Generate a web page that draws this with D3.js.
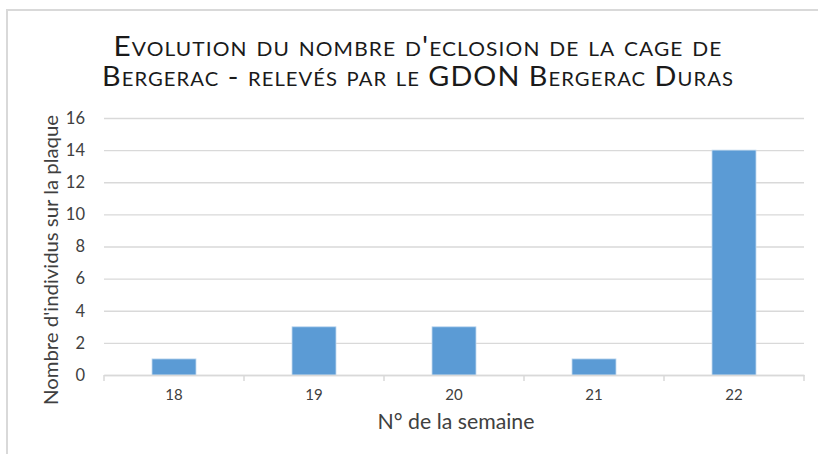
<!DOCTYPE html>
<html><head><meta charset="utf-8">
<script src="https://cdn.jsdelivr.net/npm/d3@7/dist/d3.min.js"></script>
<style>body{margin:0;background:#fff}svg{display:block}</style>
</head><body><svg id="c" width="818" height="454"></svg>
<script>
const weeks = ["18","19","20","21","22"];
const counts = [1,3,3,1,14];
const yTicks = [0,2,4,6,8,10,12,14,16];
const titleLines = ["Evolution du nombre d'eclosion de la cage de","Bergerac - relevés par le GDON Bergerac Duras"];
const xTitle = "N° de la semaine";
const yTitle = "Nombre d'individus sur la plaque";

const svg = d3.select("#c");
const W = 818, H = 454;
const m = {left:104, right:14, top:118, bottom:79};
const x = d3.scaleBand().domain(weeks).range([m.left, W - m.right]).paddingInner(0.686).paddingOuter(0.343);
const y = d3.scaleLinear().domain([0,16]).range([H - m.bottom, m.top]);

// frame (only left/top visible)
svg.append("rect").attr("x",7).attr("y",10).attr("width",830).attr("height",470)
  .attr("fill","none").attr("stroke","#d9d9d9").attr("stroke-width",2);

// grid
const grid = svg.append("g").attr("transform",`translate(${m.left},0)`)
  .call(d3.axisLeft(y).tickValues(yTicks).tickSize(-(W - m.right - m.left)).tickFormat(""));
grid.select(".domain").remove();
grid.selectAll("line").attr("stroke","#d9d9d9").attr("stroke-width",1.3);

// y tick labels
const ya = svg.append("g").attr("transform",`translate(${m.left},0)`)
  .call(d3.axisLeft(y).tickValues(yTicks).tickSize(0).tickPadding(19));
ya.select(".domain").remove();
ya.selectAll("text").attr("font-family","Lato, sans-serif").attr("font-size",16.5).attr("fill","#404040");

// bars
const bw = x.bandwidth();
svg.append("g").selectAll("rect").data(weeks).join("rect")
  .attr("x", d => x(d)).attr("width", bw)
  .attr("y", (d,i) => y(counts[i])).attr("height", (d,i) => y(0) - y(counts[i]))
  .attr("fill","#5b9bd5").attr("stroke","#bdd7ee").attr("stroke-width",0.8);

// x axis
const step = x.step();
const xa = svg.append("g").attr("transform",`translate(0,${y(0)})`)
  .call(d3.axisBottom(x).tickSize(0).tickPadding(14));
xa.select(".domain").attr("stroke","#d9d9d9").attr("stroke-width",1.5);
xa.selectAll("text").attr("font-family","Lato, sans-serif").attr("font-size",15).attr("fill","#404040");
// boundary ticks
const bounds = d3.range(weeks.length + 1).map(i => m.left + i * step);
xa.selectAll("line.bt").data(bounds).join("line").attr("class","bt")
  .attr("x1", d => d).attr("x2", d => d).attr("y1",0).attr("y2",6)
  .attr("stroke","#d9d9d9").attr("stroke-width",1.5);

// axis titles
svg.append("text").attr("x",456).attr("y",429).attr("text-anchor","middle")
  .attr("font-family","Lato, sans-serif").attr("font-size",20.5).attr("fill","#404040")
  .attr("textLength",157).attr("lengthAdjust","spacingAndGlyphs").text(xTitle);
svg.append("text").attr("transform","translate(58,260) rotate(-90)").attr("text-anchor","middle")
  .attr("font-family","Lato, sans-serif").attr("font-size",20).attr("fill","#404040")
  .attr("textLength",290).attr("lengthAdjust","spacingAndGlyphs").text(yTitle);

// title
const tw = [609, 632];
const ty = [56, 86];
svg.append("g").selectAll("text").data(titleLines).join("text")
  .attr("x",418).attr("y",(d,i)=>ty[i]).attr("text-anchor","middle")
  .attr("font-family","Lato, sans-serif").attr("font-size",27).attr("font-variant","small-caps")
  .attr("letter-spacing",1).attr("fill","#1a1a1a")
  .attr("textLength",(d,i)=>tw[i]).attr("lengthAdjust","spacingAndGlyphs")
  .text(d => d);
</script></body></html>
